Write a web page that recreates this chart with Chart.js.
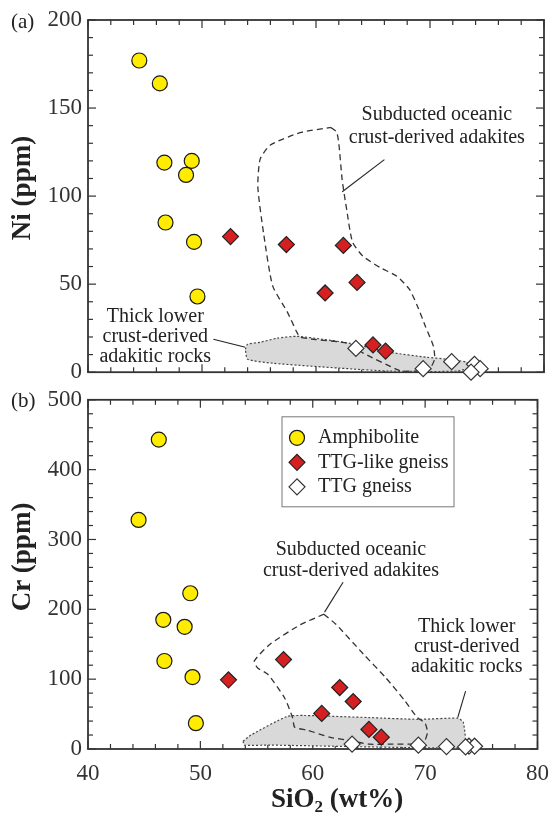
<!DOCTYPE html>
<html lang="en">
<head>
<meta charset="UTF-8">
<title>Ni and Cr vs SiO2</title>
<style>
  body { margin: 0; background: #fff; }
  #wrap { position: relative; width: 560px; height: 816px; }
  #chartNi { position: absolute; left: 0; top: 0; }
  #chartCr { position: absolute; left: 0; top: 380px; }
</style>
</head>
<body>
<div id="wrap">
  <canvas id="chartNi" width="560" height="392"></canvas>
  <canvas id="chartCr" width="560" height="436"></canvas>
</div>

<script src="https://cdn.jsdelivr.net/npm/chart.js@4"></script>
<script>
// samples (same SiO2 in both panels)
const sio2Amph = [44.5, 46.3, 46.7, 49.1, 48.6, 46.8, 49.3, 49.6];
const niAmph   = [177, 164, 119, 120, 112, 85, 74, 43];
const crAmph   = [328, 443, 185, 223, 175, 126, 103, 37];

const sio2TtgLike = [52.5, 57.4, 62.4, 60.8, 63.6, 65.0, 66.1];
const niTtgLike   = [77, 72.5, 72, 45, 51, 15.5, 12];
const crTtgLike   = [99, 128, 88, 51, 68, 28, 17];

const sio2Ttg = [63.5, 69.4, 71.9, 73.9, 74.4, 73.6];
const niTtg   = [13.5, 2, 6, 4.5, 2, 0];
const crTtg   = [7, 5.5, 3.5, 4, 4, 3];

// field outlines
const slabNiX = [61.3, 61.8, 62.0, 62.3, 62.7, 63.2, 64.1, 65.6, 67.1, 68.2, 68.9, 69.6, 70.3, 70.4, 69.9, 68.0, 67.3, 64.1, 62.7, 60.0, 58.6, 58.3, 57.5, 56.2, 55.4, 54.9, 55.1, 56.0, 58.6, 61.3];
const slabNiY = [139, 136.5, 130, 109, 92, 74, 66, 59.5, 54.5, 47, 37.5, 26, 14.7, 7.4, 1.5, 0.5, 1, 11, 16.5, 18.5, 20, 23, 34, 49, 79, 105, 121, 129, 136, 139];
const lowerNiX = [53.8, 54.0, 55.1, 56.6, 58.3, 60.6, 63.0, 66.5, 69.7, 71.5, 73.2, 73.5, 72.4, 66.5, 62.1, 56.2, 54.0, 53.8];
const lowerNiY = [13, 15.9, 17, 19.3, 20.4, 18.7, 16.4, 11.3, 8.5, 7.4, 5.7, 2.8, 0.6, 0.6, 2.3, 5.1, 7.4, 13];

const slabCrX = [61.0, 62.1, 64.5, 66.5, 68.2, 69.3, 70.0, 70.2, 69.8, 67.0, 65.0, 63.0, 61.5, 59.5, 58.4, 58.2, 57.5, 56.0, 55.1, 54.8, 56.2, 58.9, 61.0];
const slabCrY = [193, 178, 136, 102, 69, 45, 37, 23, 8.5, 7, 7, 12.7, 17, 27, 31, 45, 73, 107, 116, 126, 150, 178, 193];
const lowerCrX = [53.8, 54.5, 57.7, 59.2, 65.0, 69.4, 72.9, 73.4, 73.5, 70.9, 56.2, 53.9, 53.8];
const lowerCrY = [11, 20, 46.5, 48, 45, 42.5, 44, 38, 3, 1.5, 5.6, 5.6, 11];

const xTicksMajor = 10;
const FONT = '"Liberation Serif", "Times New Roman", serif';
const INK = '#333333';

const pts = (xs, ys) => xs.map((x, i) => ({ x: x, y: ys[i] }));
const isMajor = (v, step) => Math.abs(v / step - Math.round(v / step)) < 1e-6;

function line(ctx, x1, y1, x2, y2) {
    ctx.beginPath();
    ctx.moveTo(x1, y1);
    ctx.lineTo(x2, y2);
    ctx.stroke();
}

// box with inward ticks on all four sides
const framePlugin = {
    id: 'frame',
    beforeDatasetsDraw(chart, args, o) {
        const { ctx, chartArea: a, scales: { x, y } } = chart;
        ctx.save();
        ctx.strokeStyle = INK;
        ctx.lineWidth = 1.2;
        x.ticks.forEach(t => {
            const px = x.getPixelForValue(t.value);
            const len = isMajor(t.value, o.xMajor) ? 8 : 5;
            line(ctx, px, a.bottom, px, a.bottom - len);
            line(ctx, px, a.top, px, a.top + len);
        });
        y.ticks.forEach(t => {
            const py = y.getPixelForValue(t.value);
            const len = isMajor(t.value, o.yMajor) ? 8 : 5;
            line(ctx, a.left, py, a.left + len, py);
            line(ctx, a.right, py, a.right - len, py);
        });
        ctx.lineWidth = 1.8;
        ctx.strokeRect(a.left, a.top, a.right - a.left, a.bottom - a.top);
        ctx.restore();
    }
};

// field names and leader lines
const notesPlugin = {
    id: 'notes',
    beforeDatasetsDraw(chart, args, o) {
        const { ctx, scales: { x, y } } = chart;
        ctx.save();
        ctx.font = '20px ' + FONT;
        ctx.fillStyle = '#222';
        ctx.textAlign = 'center';
        ctx.textBaseline = 'middle';
        o.labels.forEach(l => {
            const px = x.getPixelForValue(l.x);
            const py = y.getPixelForValue(l.y);
            l.lines.forEach((s, i) => ctx.fillText(s, px, py + i * l.gap));
        });
        ctx.strokeStyle = '#222';
        ctx.lineWidth = 1.1;
        o.leaders.forEach(p => line(ctx, x.getPixelForValue(p[0]), y.getPixelForValue(p[1]),
                                         x.getPixelForValue(p[2]), y.getPixelForValue(p[3])));
        ctx.restore();
    }
};

// panel letter, axis titles, legend box
const titlesPlugin = {
    id: 'titles',
    afterDraw(chart, args, o) {
        const { ctx, chartArea: a } = chart;
        ctx.save();
        ctx.fillStyle = '#222';
        ctx.textBaseline = 'middle';
        ctx.textAlign = 'left';
        ctx.font = '21px ' + FONT;
        ctx.fillText(o.panel, 11, a.top + 2);

        ctx.save();
        ctx.translate(23, o.yTitleAt);
        ctx.rotate(-Math.PI / 2);
        ctx.textAlign = 'center';
        ctx.font = 'bold 27px ' + FONT;
        ctx.fillText(o.yTitle, 0, 0);
        ctx.restore();

        if (o.xTitleAt) {
            const big = 'bold 27px ' + FONT, small = 'bold 17px ' + FONT;
            ctx.font = big;
            const w1 = ctx.measureText('SiO').width, w3 = ctx.measureText(' (wt%)').width;
            ctx.font = small;
            const w2 = ctx.measureText('2').width;
            let sx = o.xTitleAt[0] - (w1 + w2 + w3) / 2;
            const sy = o.xTitleAt[1];
            ctx.font = big;
            ctx.fillText('SiO', sx, sy);
            ctx.font = small;
            ctx.fillText('2', sx + w1, sy + 8);
            ctx.font = big;
            ctx.fillText(' (wt%)', sx + w1 + w2, sy);
        }

        if (o.legend) {
            const bx = a.left + 194, by = a.top + 17, bw = 172, bh = 90;
            ctx.fillStyle = '#fff';
            ctx.fillRect(bx, by, bw, bh);
            ctx.strokeStyle = '#777';
            ctx.lineWidth = 1;
            ctx.strokeRect(bx, by, bw, bh);
            ctx.font = '20px ' + FONT;
            chart.data.datasets.filter(d => d.legend).forEach((d, i) => {
                const cy = by + 21 + i * 24.5;
                ctx.fillStyle = d.backgroundColor;
                ctx.strokeStyle = d.borderColor;
                ctx.lineWidth = d.borderWidth;
                Chart.helpers.drawPoint(ctx, { pointStyle: d.pointStyle, radius: d.pointRadius, rotation: 0, borderWidth: d.borderWidth }, bx + 15, cy);
                ctx.fillStyle = '#222';
                ctx.fillText(d.label, bx + 36, cy);
            });
        }
        ctx.restore();
    }
};

function sampleSets(ys) {
    return [
        { label: 'Amphibolite', legend: true, data: pts(sio2Amph, ys[0]), pointStyle: 'circle', pointRadius: 7.5,
          backgroundColor: '#FFEC00', borderColor: '#1a1a1a', borderWidth: 1.2, clip: false, order: 0 },
        { label: 'TTG-like gneiss', legend: true, data: pts(sio2TtgLike, ys[1]), pointStyle: 'rectRot', pointRadius: 8,
          backgroundColor: '#D42020', borderColor: '#222', borderWidth: 1.2, clip: false, order: 1 },
        { label: 'TTG gneiss', legend: true, data: pts(sio2Ttg, ys[2]), pointStyle: 'rectRot', pointRadius: 8,
          backgroundColor: '#ffffff', borderColor: '#333', borderWidth: 1.2, clip: false, order: 2 }
    ];
}

function fieldSets(slab, lower) {
    return [
        { label: 'slab', data: slab, showLine: true, pointRadius: 0, fill: false, tension: 0.2,
          borderColor: '#333', borderWidth: 1.3, borderDash: [6, 4], order: 5 },
        { label: 'lower', data: lower, showLine: true, pointRadius: 0, fill: 'shape', tension: 0.2,
          backgroundColor: '#d9d9d9', borderColor: '#444', borderWidth: 1.2, borderDash: [2, 2], order: 6 }
    ];
}

function makeChart(id, p) {
    const tickFont = { family: FONT, size: 23 };
    return new Chart(document.getElementById(id), {
        type: 'scatter',
        data: { datasets: sampleSets(p.samples).concat(fieldSets(p.slab, p.lower)) },
        options: {
            responsive: false,
            animation: false,
            events: [],
            layout: { padding: { left: 0, right: 16, top: p.top, bottom: 0 } },
            scales: {
                x: {
                    min: 40, max: 80,
                    ticks: { stepSize: 2, autoSkip: false, maxRotation: 0, display: p.showX, padding: 11,
                             font: tickFont, color: INK,
                             callback: v => isMajor(v, xTicksMajor) ? v : '' },
                    grid: { display: false, drawTicks: false },
                    border: { display: false },
                    afterFit: s => { s.height = p.xHeight; }
                },
                y: {
                    min: 0, max: p.yMax,
                    ticks: { stepSize: p.yStep, autoSkip: false, padding: 6, font: tickFont, color: INK,
                             callback: v => isMajor(v, p.yMajor) ? v : '' },
                    grid: { display: false, drawTicks: false },
                    border: { display: false },
                    afterFit: s => { s.width = 88; }
                }
            },
            plugins: {
                legend: { display: false },
                tooltip: { enabled: false },
                frame: { xMajor: xTicksMajor, yMajor: p.yMajor },
                notes: p.notes,
                titles: p.titles
            }
        },
        plugins: [framePlugin, notesPlugin, titlesPlugin]
    });
}

makeChart('chartNi', {
    samples: [niAmph, niTtgLike, niTtg],
    slab: pts(slabNiX, slabNiY),
    lower: pts(lowerNiX, lowerNiY),
    yMax: 200, yStep: 10, yMajor: 50,
    top: 20, xHeight: 19, showX: false,
    notes: {
        labels: [
            { x: 70.6, y: 146, gap: 23, lines: ['Subducted oceanic', 'crust-derived adakites'] },
            { x: 45.9, y: 31.7, gap: 20, lines: ['Thick lower', 'crust-derived', 'adakitic rocks'] }
        ],
        leaders: [[66.0, 120.7, 62.3, 102.5], [51.0, 18.7, 53.8, 14.2]]
    },
    titles: { panel: '(a)', yTitle: 'Ni (ppm)', yTitleAt: 188 }
});

makeChart('chartCr', {
    samples: [crAmph, crTtgLike, crTtg],
    slab: pts(slabCrX, slabCrY),
    lower: pts(lowerCrX, lowerCrY),
    yMax: 500, yStep: 20, yMajor: 100,
    top: 15, xHeight: 67, showX: true,
    notes: {
        labels: [
            { x: 63.4, y: 285, gap: 21, lines: ['Subducted oceanic', 'crust-derived adakites'] },
            { x: 73.7, y: 175, gap: 20, lines: ['Thick lower', 'crust-derived', 'adakitic rocks'] }
        ],
        leaders: [[62.7, 238.7, 61.05, 196], [73.6, 83, 72.9, 45]]
    },
    titles: { panel: '(b)', yTitle: 'Cr (ppm)', yTitleAt: 177, xTitleAt: [337, 420], legend: true }
});
</script>
</body>
</html>
